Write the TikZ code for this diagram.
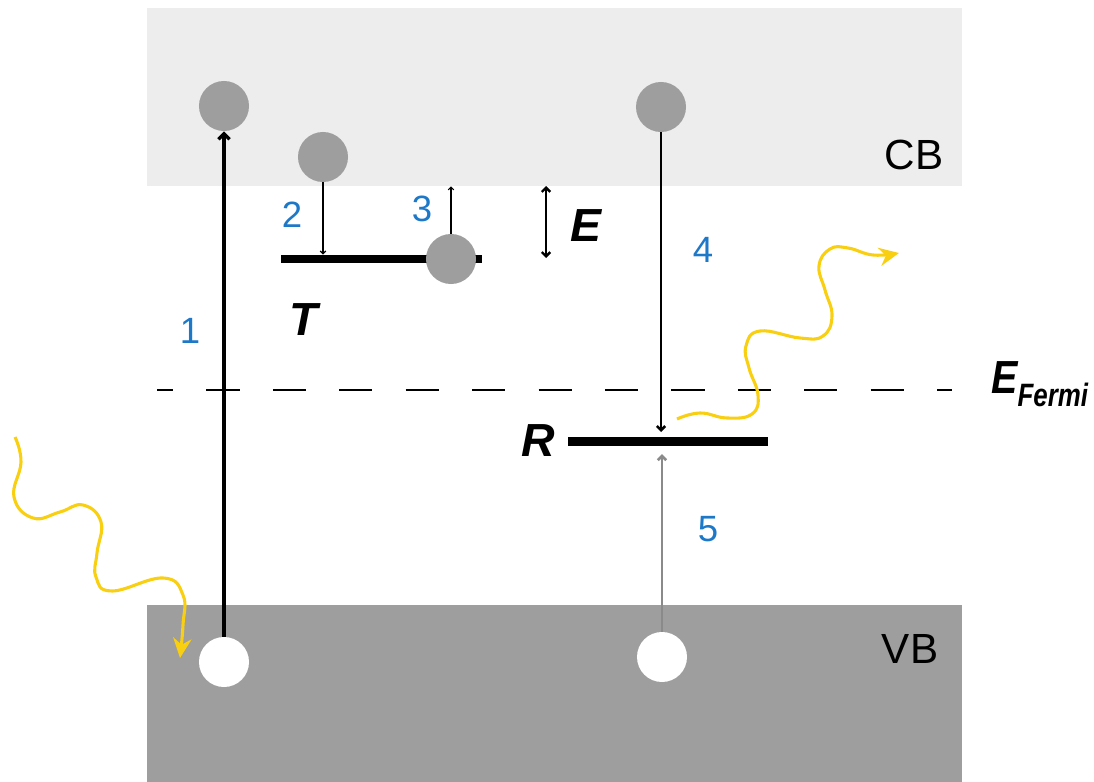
\documentclass[tikz,border=0pt]{standalone}
\usepackage{fontspec}
\setmainfont{Liberation Sans}
\usepackage{tikz}
\usetikzlibrary{
  arrows.meta,
  positioning,
  calc
}
\usepackage{xcolor}
\definecolor{bdLight}{HTML}{EDEDED}
\definecolor{bdGray}{HTML}{9E9E9E}
\definecolor{bdBlue}{HTML}{1E78C8}
\definecolor{bdYellow}{HTML}{F9CF12}
\definecolor{bdArrow}{HTML}{8A8A8A}
\tikzset{
  % Energy bands (CB / VB)
  band/.style={
    rectangle,
    draw=none,
    inner sep=0pt,
    minimum width=20.375cm
  },
  % Electron in a band or level
  electron/.style={
    circle,
    fill=bdGray,
    inner sep=0pt,
    minimum size=1.25cm
  },
  % Hole left behind in the VB
  hole/.style={
    circle,
    fill=white,
    inner sep=0pt,
    minimum size=1.25cm
  },
  % Trap / recombination level
  level/.style={
    rectangle,
    fill=black,
    inner sep=0pt,
    minimum width=5cm,
    minimum height=0.21cm
  },
  % Band label
  bandlabel/.style={
    anchor=base,
    inner sep=0pt,
    font=\fontsize{30}{34}\selectfont
  },
  % Step numbers
  steplabel/.style={
    anchor=base,
    inner sep=0pt,
    text=bdBlue,
    font=\fontsize{26}{30}\selectfont
  },
  % Level / energy symbols
  symlabel/.style={
    anchor=base,
    inner sep=0pt,
    font=\fontsize{33}{36}\selectfont\bfseries\itshape
  },
  % Excitation arrow
  excite/.style={
    -{Straight Barb[length=4pt,width=8pt]},
    line width=2.4pt
  },
  % Electron transition arrow
  transit/.style={
    -{Straight Barb[length=3pt,width=6pt]},
    line width=1.8pt
  },
  % Trap depth (double headed)
  gapflow/.style={
    {Straight Barb[length=3pt,width=6pt]}-{Straight Barb[length=3pt,width=6pt]},
    line width=1.7pt
  },
  % Small capture / release arrow
  thinflow/.style={
    -{Straight Barb[length=2pt,width=4pt]},
    line width=0.8pt
  },
  % Photon (wavy)
  photon/.style={
    -{Stealth[length=14pt,width=13pt,inset=4.5pt]},
    line width=2.2pt,
    bdYellow
  },
  % Fermi level
  fermiline/.style={
    line width=1.7pt,
    dash pattern=on 0.83cm off 0.83cm,
    dash phase=0.425cm
  }
}

\begin{document}
\begin{tikzpicture}[x=0.025cm, y=-0.025cm]
\useasboundingbox (0,0) rectangle (1094,782);

%% === Bands ===
\node[band, fill=bdLight, minimum height=4.45cm] (cb) at (554.5,97) {};
\node[band, fill=bdGray, minimum height=4.425cm] (vb) at (554.5,693.5) {};
\node[bandlabel] at (914,170) {CB};
\node[bandlabel] at (910,663) {VB};

%% === Fermi level ===
\coordinate (fermiL) at (157,390);
\coordinate (fermiR) at (952,390);
\draw[fermiline] (fermiL) -- (fermiR);
\node[anchor=base west, inner sep=0pt] (efermi) at (991,393)
  {\scalebox{0.85}[1]{\fontsize{33}{36}\selectfont\bfseries\itshape E}\raisebox{-9.3pt}{\scalebox{0.8}[1]{\fontsize{23}{26}\selectfont\bfseries\itshape Fermi}}};

%% === Levels ===
\node[level] (trap) at (381.5,259) {};
\node[symlabel] at (304,335) {T};
\node[level, minimum height=0.225cm] (rlevel) at (668,441) {};
\node[symlabel] at (538,456) {R};

%% === Carriers ===
\node[electron] (e1) at (224,106) {};
\node[electron] (e2) at (323,157) {};
\node[electron] (e3) at (451,259) {};
\node[electron] (e4) at (661,107) {};
\node[hole] (h1) at (224,662) {};
\node[hole] (h5) at (662,657) {};

%% === Transitions ===
% 1: band-to-band excitation
\draw[excite] (h1.north) -- (e1.south);
\node[steplabel] at (190,343) {1};

% 2: trapping, 3: thermal release
\draw[thinflow] (e2.south) -- (e2 |- trap.north);
\node[steplabel] at (292,227) {2};
\draw[thinflow] (e3.north) -- (e3 |- cb.south);
\node[steplabel] at (422,222) {3};

% trap depth
\coordinate (etop) at (546,186);
\coordinate (ebot) at (546,258);
\draw[gapflow] (etop) -- (ebot);
\node[symlabel] at (586,241) {E};

% 4: electron into recombination centre
\draw[transit, shorten >=3pt] (e4.south) -- (e4 |- rlevel.north);
\node[steplabel] at (703,262) {4};

% 5: hole capture
\draw[transit, bdArrow, shorten >=6pt] (h5.north) -- (h5 |- rlevel.south);
\node[steplabel] at (708,541) {5};

%% === Photons ===
\draw[photon] plot[smooth, tension=0.75] coordinates {
  (15,437) (21,462) (14,497) (33,518) (60,512) (83,505) (101,522)
  (97,553) (96,577) (112,591) (163,578) (183,595) (183,625) (180,658)};
\draw[photon] plot[smooth, tension=0.75] coordinates {
  (677,419) (700,413) (727,418) (752,414) (758,395) (749,368) (746,346)
  (760,331) (800,338) (823,336) (832,316) (825,290) (819,266) (830,249)
  (848,248) (873,255) (899,253)};

\end{tikzpicture}
\end{document}
